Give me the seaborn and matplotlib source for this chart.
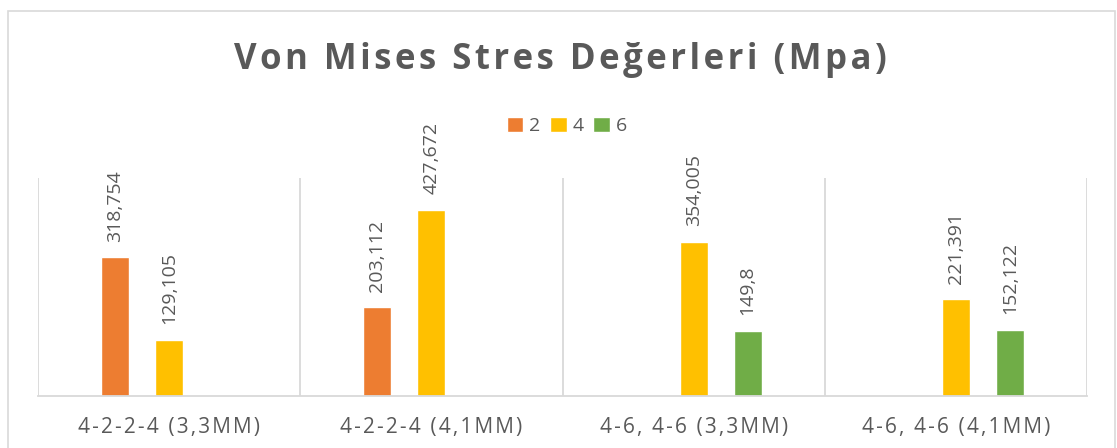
import numpy as np
import pandas as pd
import matplotlib
matplotlib.use("Agg")
import matplotlib.pyplot as plt
from matplotlib.patches import Rectangle
import seaborn as sns

# ── Data ──────────────────────────────────────────────────────────────────────
categories = ["4-2-2-4 (3,3MM)", "4-2-2-4 (4,1MM)",
              "4-6, 4-6 (3,3MM)", "4-6, 4-6 (4,1MM)"]
series     = ["2", "4", "6"]
vals_2     = [318.754, 203.112, np.nan, np.nan]
vals_4     = [129.105, 427.672, 354.005, 221.391]
vals_6     = [np.nan, np.nan, 149.8, 152.122]
title      = "Von Mises Stres Değerleri (Mpa)"

colors = ["#ED7D31", "#FFC000", "#70AD47"]
TEXT   = "#595959"
LINE   = "#D9D9D9"
HAIR   = "\u200a"   # hair space, used for Excel-like letter spacing


def spaced(s):
    return HAIR.join(s)


rows = []
for s, vals in zip(series, [vals_2, vals_4, vals_6]):
    for c, v in zip(categories, vals):
        if not np.isnan(v):
            rows.append({"kategori": c, "seri": s, "deger": v})
df = pd.DataFrame(rows)

# ── Plot ──────────────────────────────────────────────────────────────────────
sns.set_style("white")
plt.rcParams["font.family"] = ["Open Sans", "DejaVu Sans"]

fig = plt.figure(figsize=(11.17, 4.48), dpi=100)
ax = fig.add_axes([38 / 1117, 1 - 396 / 448, (1087 - 38) / 1117, (396 - 178) / 448])

sns.barplot(data=df, x="kategori", y="deger", hue="seri",
            order=categories, hue_order=series, palette=colors,
            width=0.618, gap=0.48, ax=ax, errorbar=None, saturation=1)

for cont in ax.containers:
    labels = [f"{h:g}".replace(".", ",") for h in cont.datavalues]
    ax.bar_label(cont, labels=labels, rotation=90, padding=11,
                 fontsize=14, color=TEXT)

ax.set_ylim(0, 500)
ax.set_xlim(-0.5, len(categories) - 0.5)
ax.vlines(np.arange(len(categories) + 1) - 0.5, 0, 500, color=LINE, lw=1.3, zorder=0)

for side in ["top", "left", "right"]:
    ax.spines[side].set_visible(False)
ax.spines["bottom"].set_color(LINE)
ax.spines["bottom"].set_linewidth(1.3)
ax.set_yticks([])
ax.set_xlabel("")
ax.set_ylabel("")
ax.set_xticks(range(len(categories)))
ax.set_xticklabels([spaced(c) for c in categories])
ax.tick_params(axis="x", length=0, pad=15, labelsize=15, labelcolor=TEXT)

handles, lbls = ax.get_legend_handles_labels()
ax.legend(handles, lbls, loc="center", bbox_to_anchor=(567 / 1117, 1 - 126 / 448),
          bbox_transform=fig.transFigure, ncol=3, frameon=False, fontsize=14,
          handlelength=0.85, handleheight=0.85, handletextpad=0.3,
          columnspacing=0.5, labelcolor=TEXT)

fig.text(560 / 1117, 1 - 60 / 448, spaced(title), ha="center", va="center",
         fontsize=25, fontweight="bold", color=TEXT)

fig.patches.append(Rectangle((8 / 1117, -0.02), (1115 - 8) / 1117, (448 - 11) / 448 + 0.02,
                             transform=fig.transFigure, fill=False,
                             edgecolor=LINE, lw=1.2))

plt.savefig("out.png", dpi=100)
plt.close()
